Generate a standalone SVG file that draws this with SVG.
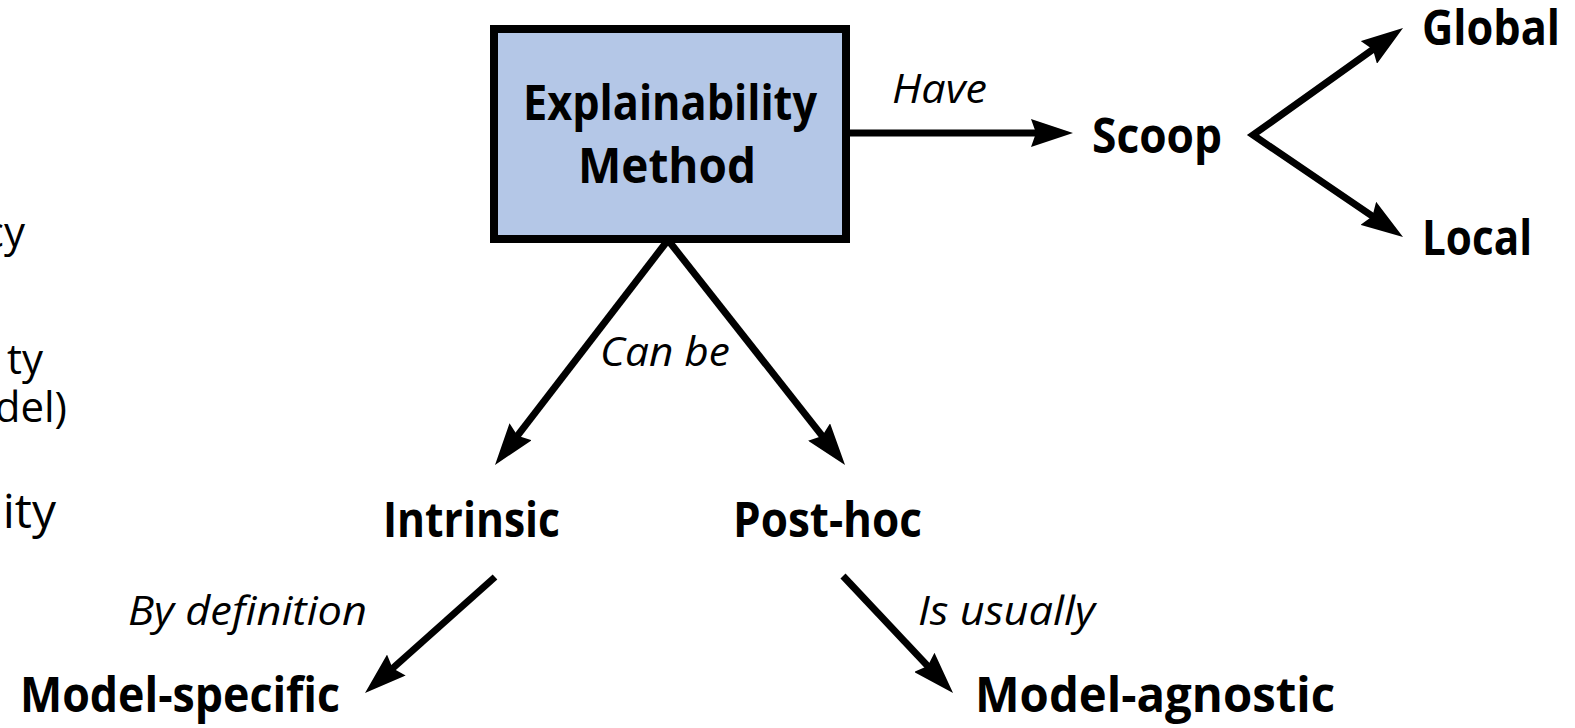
<svg xmlns="http://www.w3.org/2000/svg" width="1575" height="728" viewBox="0 0 1575 728">
  <style>
    .b { font-family: "Open Sans", "Noto Sans", sans-serif; font-weight: 700; font-size: 48px; fill: #000; }
    .i { font-family: "Open Sans", "Noto Sans", sans-serif; font-style: italic; font-size: 41px; fill: #000; }
    .r { font-family: "Open Sans", "Noto Sans", sans-serif; font-size: 42px; fill: #000; }
    .edge { fill: none; stroke: #000; stroke-width: 7; stroke-linejoin: miter; }
  </style>
  <defs>
    <marker id="ah" markerUnits="userSpaceOnUse" viewBox="0 0 42 28" refX="12" refY="14" markerWidth="42" markerHeight="28" orient="auto-start-reverse">
      <path d="M0,0 L42,14 L0,28 L5,14 Z" fill="#000"/>
    </marker>
  </defs>
  <rect width="1575" height="728" fill="#fff"/>

  <g id="left-fragments">
    <text class="r" x="25" y="247" text-anchor="end">cy</text>
    <text class="r" x="43" y="374" text-anchor="end">ty</text>
    <text class="r" x="67" y="422" text-anchor="end">del)</text>
    <text class="r" x="56" y="528" text-anchor="end" style="font-size:48px">ity</text>
  </g>

  <g id="connectors">
    <path class="edge" d="M850,133 L1043,133" marker-end="url(#ah)"/>
    <path class="edge" d="M1378.6,45.4 L1253,135 L1378.2,220.1" marker-start="url(#ah)" marker-end="url(#ah)"/>
    <path class="edge" d="M668,240 L513.3,441.2" marker-end="url(#ah)"/>
    <path class="edge" d="M668,240 L826.5,441.4" marker-end="url(#ah)"/>
    <path class="edge" d="M495,577 L387.4,673" marker-end="url(#ah)"/>
    <path class="edge" d="M843,576 L932.5,671.1" marker-end="url(#ah)"/>
  </g>

  <g id="node-explainability">
    <rect x="494" y="29" width="352" height="210" fill="#b4c7e7" stroke="#000" stroke-width="8"/>
    <text class="b" x="670" y="120" text-anchor="middle" textLength="294" lengthAdjust="spacingAndGlyphs">Explainability</text>
    <text class="b" x="667" y="183" text-anchor="middle" textLength="178" lengthAdjust="spacingAndGlyphs">Method</text>
  </g>

  <g id="label-have"><text class="i" x="892" y="103" textLength="95" lengthAdjust="spacingAndGlyphs">Have</text></g>
  <g id="node-scoop"><text class="b" x="1092" y="153" textLength="130" lengthAdjust="spacingAndGlyphs">Scoop</text></g>
  <g id="node-global"><text class="b" x="1422" y="45" textLength="138" lengthAdjust="spacingAndGlyphs">Global</text></g>
  <g id="node-local"><text class="b" x="1422" y="255" textLength="110" lengthAdjust="spacingAndGlyphs">Local</text></g>
  <g id="label-canbe"><text class="i" x="600" y="366" textLength="130" lengthAdjust="spacingAndGlyphs">Can be</text></g>
  <g id="node-intrinsic"><text class="b" x="383" y="537" textLength="177" lengthAdjust="spacingAndGlyphs">Intrinsic</text></g>
  <g id="node-posthoc"><text class="b" x="733" y="537" textLength="189" lengthAdjust="spacingAndGlyphs">Post-hoc</text></g>
  <g id="label-bydefinition"><text class="i" x="128" y="625" textLength="239" lengthAdjust="spacingAndGlyphs">By definition</text></g>
  <g id="node-modelspecific"><text class="b" x="20" y="712" textLength="320" lengthAdjust="spacingAndGlyphs">Model-specific</text></g>
  <g id="label-isusually"><text class="i" x="918" y="625" textLength="177" lengthAdjust="spacingAndGlyphs">Is usually</text></g>
  <g id="node-modelagnostic"><text class="b" x="975" y="712" textLength="360" lengthAdjust="spacingAndGlyphs">Model-agnostic</text></g>
</svg>
